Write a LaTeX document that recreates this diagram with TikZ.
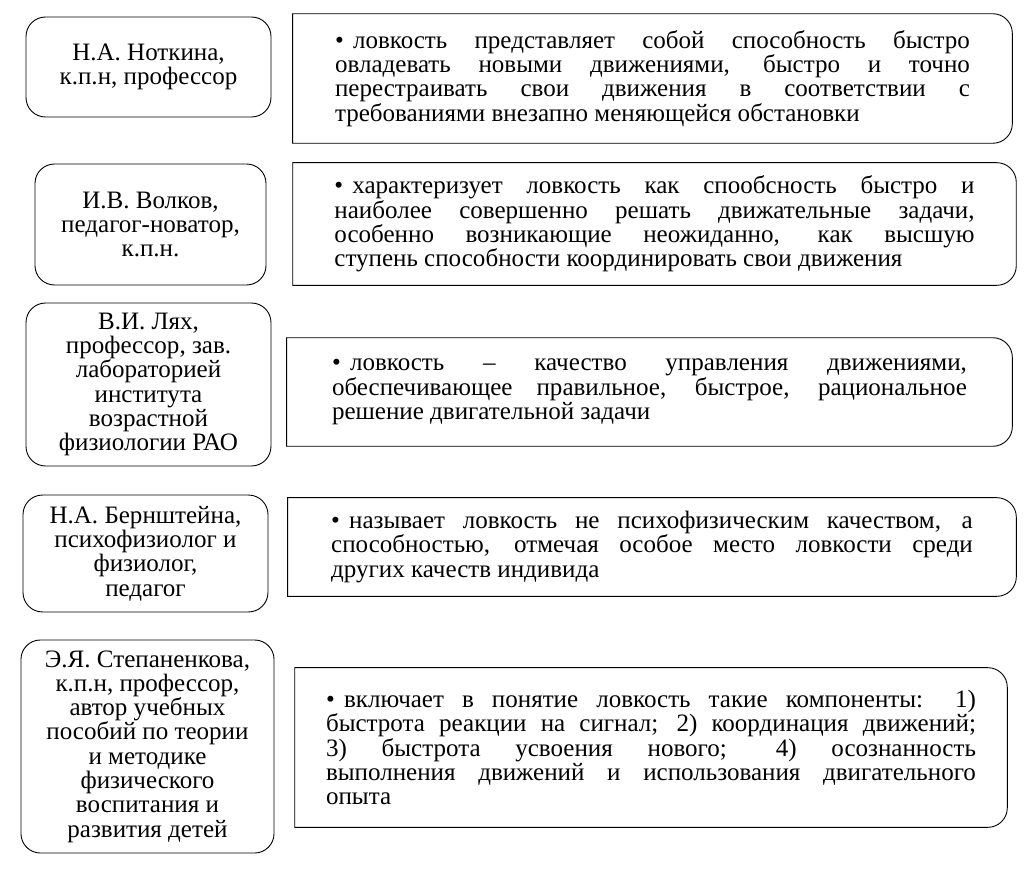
\documentclass[tikz,border=0pt]{standalone}
\usepackage{fontspec}
\setmainfont{Liberation Serif}
\newcommand\boxfont{\fontsize{16.7pt}{16.2pt}\selectfont\lineskiplimit=-8pt\relax}
\newcommand\itembul{\hangindent=12pt\hangafter=1\noindent\makebox[12pt][l]{\textbullet}}
\begin{document}
\begin{tikzpicture}[
  x=0.667pt, y=-0.667pt,
  every node/.style={font=\boxfont, inner sep=0pt},
  person/.style={draw, line width=0.6pt, rounded corners=13pt, align=center},
  defn/.style={align=justify, text width=#1},
  frame/.style={line width=0.6pt}
]
\useasboundingbox (0,0) rectangle (1025,893);

% left column: authors
\node[person, minimum width=163.4pt, minimum height=66.7pt] (notkina) at (148.5,67) {Н.А. Ноткина,\\к.п.н, профессор};
\node[person, minimum width=154.1pt, minimum height=80.7pt] (volkov) at (150.5,224.5) {И.В. Волков,\\педагог-новатор,\\к.п.н.};
\node[person, minimum width=163.4pt, minimum height=108.7pt] (lyah) at (148.5,384.5) {В.И. Лях,\\профессор, зав.\\лабораторией\\института\\возрастной\\физиологии РАО};
\node[person, minimum width=163.4pt, minimum height=78pt] (bernst) at (145.5,553.5) {Н.А. Бернштейна,\\психофизиолог и\\физиолог,\\педагог};
\node[person, minimum width=168.8pt, minimum height=142.1pt] (stepan) at (147.5,746.5) {Э.Я. Степаненкова,\\к.п.н, профессор,\\автор учебных\\пособий по теории\\и методике\\физического\\воспитания и\\развития детей};

% right column: definitions
\node[defn=423.5pt, minimum width=479.6pt, minimum height=86pt] (q1) at (652.5,78.5) {\itembul ловкость представляет собой способность быстро\linebreak овладевать новыми движениями, быстро и точно\linebreak перестраивать свои движения в соответствии с\linebreak требованиями внезапно меняющейся обстановки};
\node[defn=427pt, minimum width=482.2pt, minimum height=81.4pt] (q2) at (654.5,224) {\itembul характеризует ловкость как спообсность быстро и\linebreak наиболее совершенно решать движательные задачи,\linebreak особенно возникающие неожиданно, как высшую\linebreak ступень способности координировать свои движения};
\node[defn=423.5pt, minimum width=483.6pt, minimum height=72pt] (q3) at (649.5,392) {\itembul ловкость – качество управления движениями,\linebreak обеспечивающее правильное, быстрое, рациональное\linebreak решение двигательной задачи};
\node[defn=428pt, minimum width=485.6pt, minimum height=65.4pt] (q4) at (652,547) {\itembul называет ловкость не психофизическим качеством, а\linebreak способностью, отмечая особое место ловкости среди\linebreak других качеств индивида};
\node[defn=433.5pt, minimum width=474.9pt, minimum height=106.1pt] (q5) at (651,747.5) {\itembul включает в понятие ловкость такие компоненты: 1)\linebreak быстрота реакции на сигнал; 2) координация движений;\linebreak 3) быстрота усвоения нового; 4) осознанность\linebreak выполнения движений и использования двигательного\linebreak опыта};

% square on the left, rounded on the right
\foreach \q in {q1,q2,q3,q4,q5}
  \draw[frame] (\q.south west) -- (\q.north west) -- ([xshift=-13pt]\q.north east)
    arc[start angle=90, end angle=0, radius=13pt] -- ([yshift=13pt]\q.south east)
    arc[start angle=0, end angle=-90, radius=13pt] -- cycle;
\end{tikzpicture}
\end{document}
